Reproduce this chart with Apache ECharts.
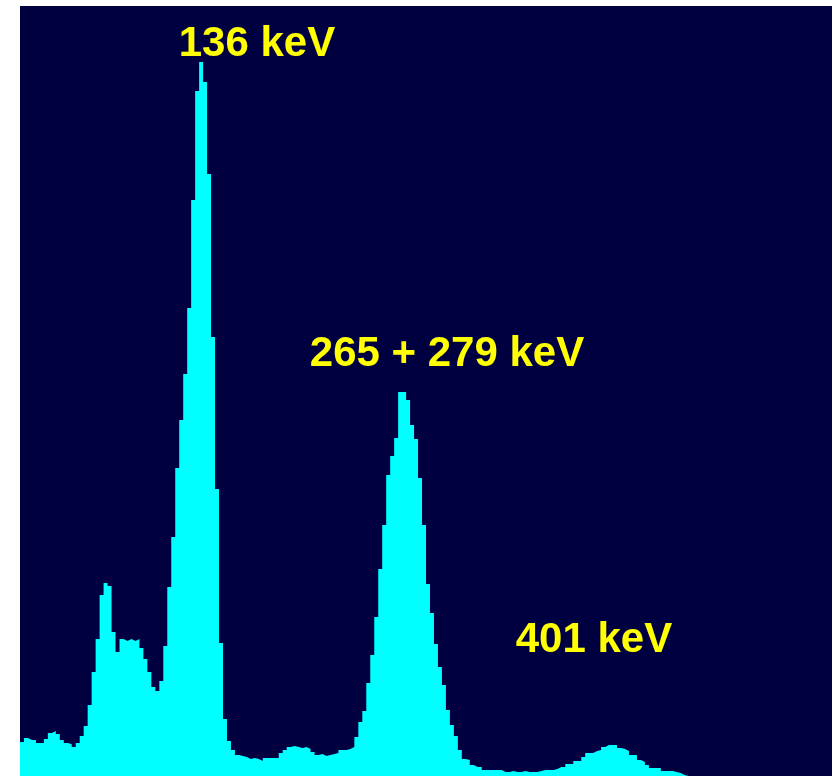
<!DOCTYPE html>
<html>
<head>
<meta charset="utf-8">
<script src="https://cdn.jsdelivr.net/npm/echarts@6/dist/echarts.min.js"></script>
<style>
  html, body { margin: 0; padding: 0; background: #ffffff; }
  #chart { width: 836px; height: 776px; }
</style>
</head>
<body>
<div id="chart"></div>
<script>
// Gamma-ray spectrum: counts per channel (arbitrary units)
const counts = [
  34,38,36,36,33,33,37,43,45,42,
  36,33,32,29,33,40,50,71,104,137,
  181,193,190,144,124,137,135,137,135,137,
  128,117,104,89,85,95,130,189,239,308,
  356,402,468,576,685,714,694,602,439,287,
  133,57,35,26,21,20,19,17,18,17,
  15,18,18,18,18,23,26,29,30,29,
  28,29,27,24,21,22,20,21,22,23,
  26,26,27,29,39,54,65,93,121,159,
  207,251,301,320,338,384,384,376,351,337,
  298,251,192,163,132,109,91,66,51,40,
  26,17,16,11,9,9,6,6,6,6,
  6,4,4,5,4,4,5,4,4,4,
  5,6,6,6,7,9,9,12,12,15,
  15,19,23,23,25,26,29,31,31,31,
  28,27,25,21,21,16,14,11,8,8,
  8,5,5,5,4,3,1,0,0,0,
  0,0,0,0,0,0,0,0,0,0,
  0,0,0,0,0,0,0,0,0,0,
  0,0,0,0,0,0,0,0,0,0,
  0,0,0,0
];
const channels = counts.map((_, i) => i);
const peakLabels = ['136 keV', '265 + 279 keV', '401 keV'];

const stepData = channels.map((c, i) => [c, counts[i]]);
stepData.push([channels.length, counts[counts.length - 1]]);

const chart = echarts.init(document.getElementById('chart'));
const labelFont = 'bold 42px "Liberation Sans", Arial, sans-serif';
const labelPos = [[257, 44], [447, 354], [594, 640]];

chart.setOption({
  animation: false,
  backgroundColor: '#ffffff',
  grid: {
    left: 20, right: 4, top: 6, bottom: 0,
    show: true, backgroundColor: '#000040', borderWidth: 0
  },
  xAxis: {
    type: 'value', min: 0, max: channels.length,
    show: false, splitLine: { show: false }
  },
  yAxis: {
    type: 'value', min: 0, max: 770,
    show: false, splitLine: { show: false }
  },
  series: [{
    type: 'line',
    step: 'end',
    data: stepData,
    symbol: 'none',
    lineStyle: { width: 0, color: '#00ffff' },
    areaStyle: { color: '#00ffff', opacity: 1 },
    silent: true
  }],
  graphic: peakLabels.map((t, i) => ({
    type: 'text',
    x: labelPos[i][0],
    y: labelPos[i][1],
    z: 100,
    style: {
      text: t,
      fill: '#ffff00',
      font: labelFont,
      align: 'center',
      verticalAlign: 'middle',
      textAlign: 'center',
      textVerticalAlign: 'middle'
    }
  }))
});
</script>
</body>
</html>
